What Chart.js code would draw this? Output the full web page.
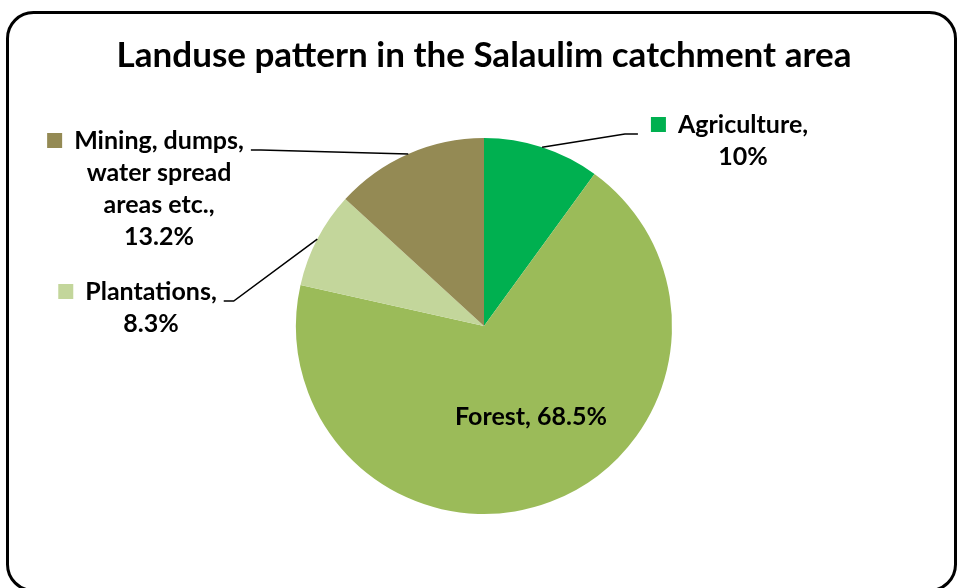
<!DOCTYPE html>
<html>
<head>
<meta charset="utf-8">
<script src="https://cdn.jsdelivr.net/npm/chart.js@4"></script>
<style>
  html, body { margin: 0; padding: 0; background: #fff; }
  #wrap { width: 960px; height: 588px; position: relative; }
</style>
</head>
<body>
<div id="wrap"><canvas id="pieChart" width="960" height="588"></canvas></div>
<script>
const titulo = 'Landuse pattern in the Salaulim catchment area';
const categorias = ['Agriculture', 'Forest', 'Plantations', 'Mining, dumps, water spread areas etc.'];
const valores = [10, 68.5, 8.3, 13.2];
const cores = ['#00B050', '#9BBB59', '#C3D69B', '#948A54'];
// linhas de texto de cada etiqueta (nome partido como no original)
const linhasNome = [
	['Agriculture,'],
	['Forest,'],
	['Plantations,'],
	['Mining, dumps,', 'water spread', 'areas etc.,']
];

const fonte = 'Lato, "Open Sans", sans-serif';

// onde fica cada etiqueta: centro do texto, primeira linha de base, lado da linha guia
const posEtiquetas = [
	{ cx: 743, y: 133, lado: 'direita' },
	{ cx: 531, y: 425, lado: 'dentro' },
	{ cx: 151, y: 300, lado: 'esquerda' },
	{ cx: 159, y: 149, lado: 'esquerda' }
];

const molduraPlugin = {
	id: 'moldura',
	beforeDraw(chart) {
		const ctx = chart.ctx;
		ctx.save();
		ctx.fillStyle = '#fff';
		ctx.fillRect(0, 0, chart.width, chart.height);
		ctx.beginPath();
		ctx.roundRect(7.5, 12.5, 948, 578, 26);
		ctx.lineWidth = 3;
		ctx.strokeStyle = '#000';
		ctx.stroke();
		ctx.restore();
	}
};

const etiquetasPlugin = {
	id: 'etiquetas',
	afterDatasetsDraw(chart) {
		const ctx = chart.ctx;
		const arcos = chart.getDatasetMeta(0).data;
		ctx.save();
		ctx.font = 'bold 25px ' + fonte;
		ctx.fillStyle = '#000';
		ctx.textAlign = 'center';
		ctx.textBaseline = 'alphabetic';

		arcos.forEach(function (arco, i) {
			const p = posEtiquetas[i];
			const texto = valores[i] + '%';
			if (p.lado === 'dentro') {
				ctx.fillText(linhasNome[i][0] + ' ' + texto, p.cx, p.y);
				return;
			}
			const linhas = linhasNome[i].concat([texto]);
			linhas.forEach(function (l, k) {
				ctx.fillText(l, p.cx, p.y + k * 32);
			});
			const larg = ctx.measureText(linhas[0]).width;
			// quadrado da legenda
			ctx.fillStyle = cores[i];
			ctx.fillRect(p.cx - larg / 2 - 27, p.y - 16, 15, 15);
			ctx.fillStyle = '#000';

			// linha guia até ao meio do arco
			const props = arco.getProps(['x', 'y', 'startAngle', 'endAngle', 'outerRadius']);
			const meio = (props.startAngle + props.endAngle) / 2;
			const ax = props.x + Math.cos(meio) * props.outerRadius;
			const ay = props.y + Math.sin(meio) * props.outerRadius;
			let x0, x1;
			if (p.lado === 'esquerda') {
				x0 = p.cx + larg / 2 + 7;
				x1 = x0 + 10;
			} else {
				x0 = p.cx - larg / 2 - 40;
				x1 = x0 - 13;
			}
			ctx.beginPath();
			ctx.moveTo(x0, p.y + 1);
			ctx.lineTo(x1, p.y + 1);
			ctx.lineTo(ax, ay);
			ctx.lineWidth = 1.5;
			ctx.strokeStyle = '#000';
			ctx.stroke();
		});
		ctx.restore();
	}
};

new Chart(document.getElementById('pieChart').getContext('2d'), {
	type: 'pie',
	data: {
		labels: categorias,
		datasets: [{
			data: valores,
			backgroundColor: cores,
			borderWidth: 0
		}]
	},
	options: {
		responsive: false,
		animation: false,
		layout: {
			padding: { left: 8, right: 0, top: 0, bottom: 74 }
		},
		plugins: {
			legend: { display: false },
			tooltip: { enabled: false },
			title: {
				display: true,
				text: titulo,
				color: '#000',
				font: { family: fonte, size: 35, weight: 'bold', lineHeight: 1.2 },
				padding: { top: 35, bottom: 61 }
			}
		}
	},
	plugins: [molduraPlugin, etiquetasPlugin]
});
</script>
</body>
</html>
